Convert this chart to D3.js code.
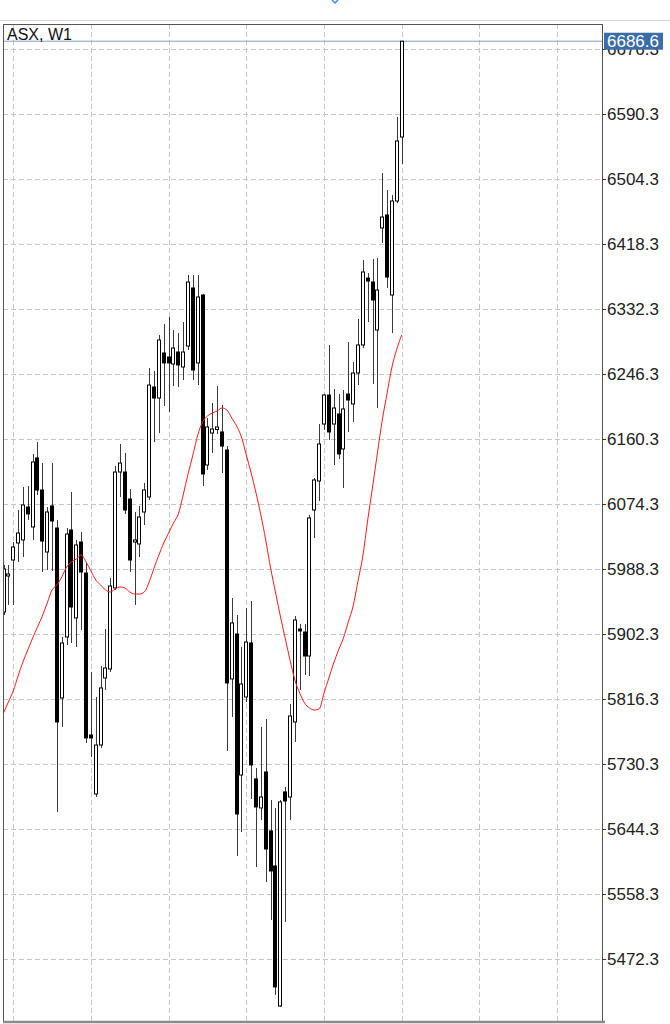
<!DOCTYPE html>
<html>
<head>
<meta charset="utf-8">
<script src="https://cdn.jsdelivr.net/npm/d3@7"></script>
<style>
  html, body { margin: 0; padding: 0; background: #ffffff; }
  svg { display: block; }
</style>
</head>
<body>
<svg id="chart" width="670" height="1024"></svg>
<script>
// ---------------- data (ASX, W1) ----------------
const symbolLabel = "ASX, W1";
const lastPrice = 6686.6;

const openP = [5931.4, 5979.0, 6000.2, 6022.7, 6026.7, 6070.3, 6043.9, 6135.2, 6092.8, 6010.8,
6071.7, 6042.5, 5817.6, 5898.3, 6039.9, 5923.5, 6024.0, 5983.0, 5768.7, 5690.6,
5755.4, 5844.1, 5856.0, 5963.2, 6116.6, 6116.6, 6080.9, 6024.0, 6021.4, 6063.7,
6083.6, 6229.1, 6214.5, 6274.1, 6268.8, 6259.5, 6275.4, 6255.6, 6283.3, 6360.1,
6260.9, 6350.8, 6125.9, 6168.2, 6172.9, 6169.6, 6145.7, 5842.8, 5902.3, 5715.7,
5818.9, 5890.4, 5710.5, 5672.1, 5719.7, 5641.7, 5595.3, 5410.1, 5693.3, 5686.6,
5785.9, 5908.9, 5904.9, 5873.2, 6066.4, 6104.7, 6180.1, 6218.5, 6180.1, 6193.4,
6147.1, 6219.8, 6206.6, 6247.6, 6284.7, 6373.3, 6368.0, 6304.5, 6439.5, 6456.7,
6350.8, 6475.2, 6559.9];

const highP = [5993.6, 5993.6, 6024.0, 6066.4, 6096.8, 6098.1, 6140.5, 6156.3, 6128.5, 6070.3,
6128.5, 6053.1, 5898.3, 6042.5, 6090.2, 6026.7, 6037.3, 5996.2, 5852.0, 5818.9,
5860.0, 5908.9, 5976.4, 6124.6, 6153.7, 6141.8, 6094.1, 6063.7, 6071.7, 6102.1,
6254.2, 6250.3, 6297.9, 6312.5, 6321.7, 6304.5, 6300.5, 6315.1, 6377.3, 6377.3,
6377.3, 6352.1, 6188.1, 6207.9, 6230.4, 6205.3, 6151.0, 5949.9, 5927.4, 5885.1,
5936.7, 5946.0, 5725.0, 5779.3, 5789.8, 5682.7, 5672.1, 5682.7, 5699.9, 5809.7,
5926.1, 5915.5, 5915.5, 6059.7, 6108.7, 6180.1, 6219.8, 6284.7, 6226.5, 6219.8,
6225.1, 6288.6, 6262.2, 6319.1, 6397.1, 6379.9, 6398.5, 6399.8, 6512.2, 6489.7,
6483.1, 6586.3, 6686.6];

const lowP = [5927.4, 5940.7, 5940.7, 5997.6, 6004.2, 6053.1, 6026.7, 6086.2, 5984.3, 5987.0,
5985.7, 5666.8, 5779.3, 5887.7, 5890.4, 5885.1, 5907.6, 5758.1, 5739.6, 5686.6,
5751.5, 5828.2, 5852.0, 5960.5, 6083.6, 6061.1, 5984.3, 5940.7, 6004.2, 6046.5,
6079.6, 6156.3, 6168.2, 6204.0, 6196.0, 6230.4, 6229.1, 6238.4, 6278.1, 6238.4,
6231.7, 6098.1, 6119.3, 6141.8, 6166.9, 6115.3, 5747.5, 5792.5, 5608.6, 5640.3,
5812.3, 5684.0, 5594.0, 5656.2, 5574.2, 5523.9, 5424.7, 5408.8, 5521.3, 5656.2,
5759.4, 5828.2, 5848.1, 5846.7, 6029.3, 6078.3, 6172.2, 6159.0, 6125.9, 6133.8,
6095.5, 6169.6, 6182.8, 6231.7, 6280.7, 6315.1, 6233.1, 6201.3, 6419.6, 6360.1,
6300.5, 6472.5, 6524.1];

const closeP = [5988.3, 5981.7, 6017.4, 6035.9, 6073.0, 6061.1, 6129.9, 6092.8, 6025.3, 6063.7,
6051.8, 5785.9, 5890.4, 6034.6, 5938.0, 6020.1, 5984.3, 5764.7, 5764.7, 5755.4,
5830.9, 5857.3, 5965.8, 6116.6, 6128.5, 6066.4, 6000.2, 6026.7, 6057.1, 6092.8,
6231.7, 6214.5, 6291.3, 6260.9, 6260.9, 6280.7, 6258.2, 6275.4, 6368.0, 6251.6,
6348.2, 6114.0, 6176.2, 6173.5, 6176.2, 6151.0, 5837.5, 5916.9, 5664.1, 5836.1,
5891.7, 5729.0, 5673.4, 5686.6, 5617.8, 5588.7, 5435.3, 5680.0, 5681.3, 5793.8,
5920.8, 5906.3, 5873.2, 6055.8, 6106.1, 6153.7, 6218.5, 6169.6, 6201.3, 6140.5,
6200.0, 6211.9, 6247.6, 6284.7, 6381.3, 6369.3, 6344.2, 6357.4, 6454.0, 6374.6,
6475.2, 6554.6, 6686.6];

// moving average (red line)
const maP = [5797.8, 5812.3, 5826.9, 5846.7, 5865.3, 5881.1, 5897.0, 5911.6, 5926.1, 5943.3,
5960.5, 5967.1, 5977.7, 5990.9, 5997.6, 6001.5, 6006.8, 5997.6, 5985.7, 5973.7,
5967.1, 5960.5, 5957.9, 5961.8, 5964.5, 5963.2, 5957.9, 5955.2, 5955.2, 5957.9,
5971.1, 5989.6, 6006.8, 6022.7, 6035.9, 6049.2, 6061.1, 6086.2, 6114.0, 6139.1,
6165.6, 6182.8, 6190.7, 6194.7, 6197.3, 6201.3, 6198.7, 6188.1, 6177.5, 6162.9,
6139.1, 6115.3, 6088.9, 6059.7, 6026.7, 5989.6, 5957.9, 5926.1, 5897.0, 5867.9,
5841.4, 5824.2, 5811.0, 5804.4, 5801.7, 5803.1, 5824.2, 5844.1, 5863.9, 5881.1,
5897.0, 5918.2, 5939.4, 5972.4, 6005.5, 6053.1, 6096.8, 6141.8, 6185.4, 6221.2,
6255.6, 6279.4, 6297.9];

// y-axis tick labels (price grid)
const priceTicks = [6676.3, 6590.3, 6504.3, 6418.3, 6332.3, 6246.3, 6160.3, 6074.3,
  5988.3, 5902.3, 5816.3, 5730.3, 5644.3, 5558.3, 5472.3];
// vertical grid positions, in bar index units
const timeGridBars = [2, 18, 34, 50, 66, 82, 98, 114];

// ---------------- layout ----------------
const W = 670, H = 1024;
const L = 3, R = 602, T = 24, B = 1022;

const svg = d3.select("#chart");
const x = d3.scaleLinear().domain([0, 82]).range([3.5, 401.7]);
const y = d3.scaleLinear().domain([5388.9, 6709.4]).range([B, T]);

const bars = openP.map((o, i) => ({ i, o, h: highP[i], l: lowP[i], c: closeP[i] }));

// top separator and little blue mark
svg.append("line").attr("x1", 0).attr("x2", W).attr("y1", 20.5).attr("y2", 20.5)
  .attr("stroke", "#d2d2d2").attr("stroke-width", 1);
svg.append("path").attr("d", "M332,0 L335,3 L338,0")
  .attr("fill", "none").attr("stroke", "#3b8cf0").attr("stroke-width", 1.5);

svg.append("defs").append("clipPath").attr("id", "plotClip")
  .append("rect").attr("x", L).attr("y", T).attr("width", R - L).attr("height", B - T);

const plot = svg.append("g").attr("clip-path", "url(#plotClip)");

// grid
plot.append("g").selectAll("line").data(priceTicks).join("line")
  .attr("x1", L).attr("x2", R)
  .attr("y1", d => Math.round(y(d)) + 0.5).attr("y2", d => Math.round(y(d)) + 0.5)
  .attr("stroke", "#c6c6c6").attr("stroke-width", 1).attr("stroke-dasharray", "5,3");
plot.append("g").selectAll("line").data(timeGridBars).join("line")
  .attr("x1", d => Math.round(x(d)) + 0.5).attr("x2", d => Math.round(x(d)) + 0.5)
  .attr("y1", T).attr("y2", B)
  .attr("stroke", "#c6c6c6").attr("stroke-width", 1).attr("stroke-dasharray", "5,3");

// current price line
plot.append("line").attr("x1", L).attr("x2", R)
  .attr("y1", y(lastPrice)).attr("y2", y(lastPrice))
  .attr("stroke", "#7d9dc8").attr("stroke-width", 1);

// candles
const cg = plot.append("g");
cg.selectAll("line.wick").data(bars).join("line").attr("class", "wick")
  .attr("x1", d => Math.round(x(d.i)) + 0.5).attr("x2", d => Math.round(x(d.i)) + 0.5)
  .attr("y1", d => y(d.h)).attr("y2", d => y(d.l))
  .attr("stroke", "#3a3a3a").attr("stroke-width", 1);
cg.selectAll("rect.body").data(bars).join("rect").attr("class", "body")
  .attr("x", d => Math.round(x(d.i)) - 1.5)
  .attr("width", 3)
  .attr("y", d => y(Math.max(d.o, d.c)))
  .attr("height", d => Math.max(1, Math.abs(y(d.o) - y(d.c))))
  .attr("fill", d => d.c >= d.o ? "#ffffff" : "#000000")
  .attr("stroke", "#000000").attr("stroke-width", 1);

// moving average
plot.append("path").datum(maP)
  .attr("d", d3.line().x((d, i) => x(i)).y(d => y(d)).curve(d3.curveMonotoneX))
  .attr("fill", "none").attr("stroke", "#ff1a1a").attr("stroke-width", 1);

// frame
svg.append("line").attr("x1", L + 0.5).attr("x2", L + 0.5).attr("y1", T).attr("y2", B)
  .attr("stroke", "#555").attr("stroke-width", 1);
svg.append("line").attr("x1", L).attr("x2", R + 1).attr("y1", T + 0.5).attr("y2", T + 0.5)
  .attr("stroke", "#555").attr("stroke-width", 1);
svg.append("line").attr("x1", R + 0.5).attr("x2", R + 0.5).attr("y1", T).attr("y2", B)
  .attr("stroke", "#555").attr("stroke-width", 1);
svg.append("line").attr("x1", L).attr("x2", R + 3).attr("y1", B).attr("y2", B)
  .attr("stroke", "#8c8c8c").attr("stroke-width", 2.5);

// y axis on the right
const axis = d3.axisRight(y).tickValues(priceTicks)
  .tickFormat(d3.format(".1f")).tickSize(4).tickPadding(1);
const ag = svg.append("g").attr("transform", `translate(${R},0)`).call(axis);
ag.select(".domain").remove();
ag.selectAll(".tick line").attr("stroke", "#333");
ag.selectAll(".tick text").attr("fill", "#222")
  .style("font-family", "'Liberation Sans', Arial, sans-serif").style("font-size", "17px");

// current price label (covers the top tick label, as in the terminal)
const py = y(lastPrice);
svg.append("rect").attr("x", R + 2).attr("y", py - 8.5).attr("width", 59).attr("height", 17)
  .attr("fill", "#3b6da6");
svg.append("text").attr("x", R + 5).attr("y", py).attr("dy", "0.35em")
  .attr("fill", "#ffffff")
  .style("font-family", "'Liberation Sans', Arial, sans-serif").style("font-size", "17px")
  .text(d3.format(".1f")(lastPrice));

// symbol label
svg.append("text").attr("x", 7).attr("y", 40)
  .attr("fill", "#111")
  .style("font-family", "'Liberation Sans', Arial, sans-serif").style("font-size", "16px")
  .text(symbolLabel);
</script>
</body>
</html>
